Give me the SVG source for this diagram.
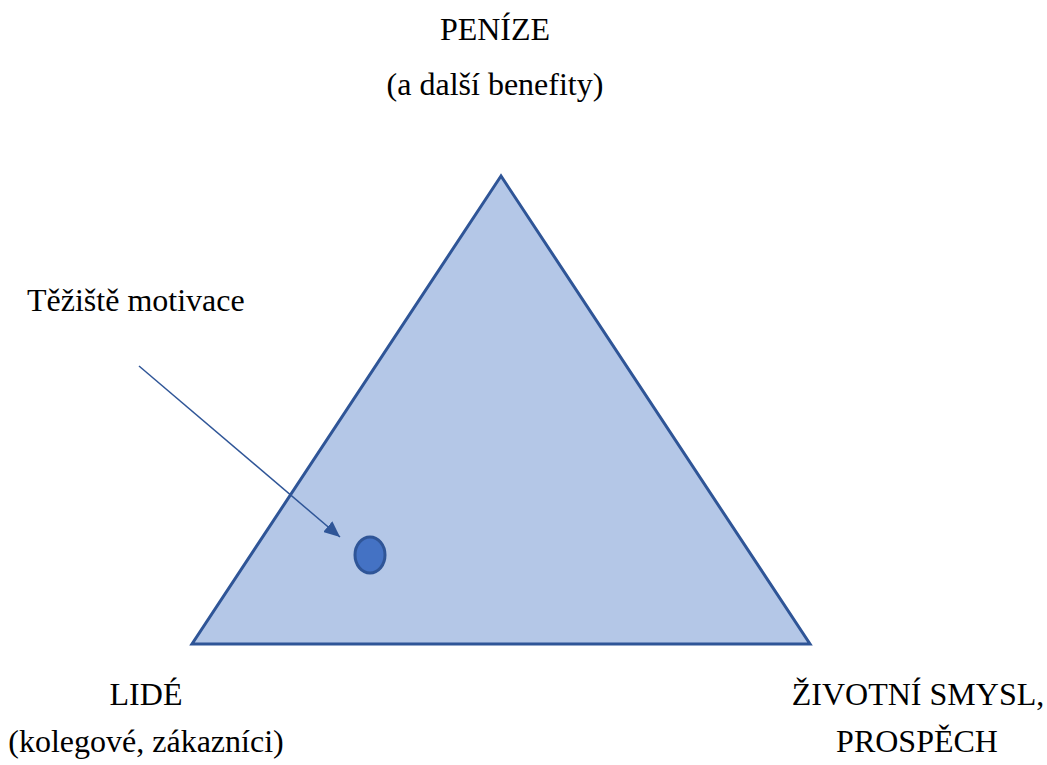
<svg xmlns="http://www.w3.org/2000/svg" width="1047" height="765" viewBox="0 0 1047 765">
<style>
.t{font-family:'Liberation Serif','DejaVu Serif',serif;font-size:32px;fill:#000}
.c{text-anchor:middle}
</style>
<defs>
<marker id="ah" markerWidth="16" markerHeight="14" refX="16" refY="7" orient="auto" markerUnits="userSpaceOnUse" viewBox="0 0 16 14">
<path d="M0,0 L16,7 L0,14 z" fill="#2F5597"/>
</marker>
</defs>
<rect width="1047" height="765" fill="#fff"/>
<g id="triangle">
<polygon points="501,176 192,644 810,644" fill="#B4C7E7" stroke="#2F5597" stroke-width="3" stroke-linejoin="miter"/>
</g>
<g id="dot">
<ellipse cx="370" cy="555" rx="15" ry="18" fill="#4472C4" stroke="#2F5597" stroke-width="3"/>
</g>
<g id="connectors">
<line x1="139" y1="366" x2="340" y2="537" stroke="#2F5597" stroke-width="1.5" marker-end="url(#ah)"/>
</g>
<g id="top-label" font-family="Liberation Serif, DejaVu Serif, serif">
<text class="t c" x="495" y="40">PENÍZE</text>
<text class="t c" x="495" y="95">(a další benefity)</text>
</g>
<g id="left-label" font-family="Liberation Serif, DejaVu Serif, serif">
<text class="t c" x="146" y="705">LIDÉ</text>
<text class="t c" x="146" y="752">(kolegové, zákazníci)</text>
</g>
<g id="right-label" font-family="Liberation Serif, DejaVu Serif, serif">
<text class="t c" x="918" y="705">ŽIVOTNÍ SMYSL,</text>
<text class="t c" x="917" y="752">PROSPĚCH</text>
</g>
<g id="pointer-label" font-family="Liberation Serif, DejaVu Serif, serif">
<text class="t" x="27" y="311">Těžiště motivace</text>
</g>
</svg>
